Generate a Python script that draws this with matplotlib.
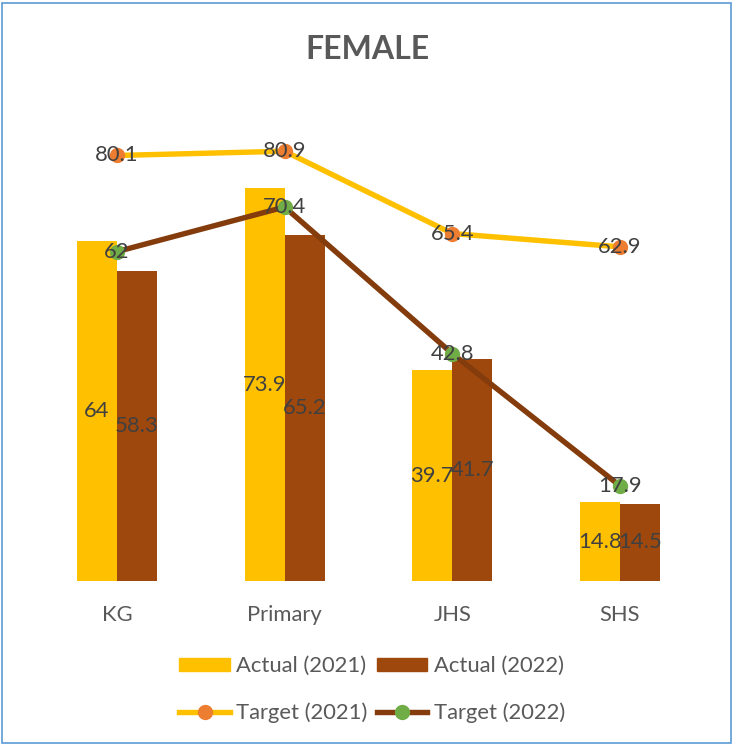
import matplotlib
matplotlib.use("Agg")
import matplotlib.pyplot as plt
from matplotlib.patches import Rectangle
from matplotlib.lines import Line2D
import numpy as np

categories = ["KG", "Primary", "JHS", "SHS"]
actual_2021 = [64, 73.9, 39.7, 14.8]
actual_2022 = [58.3, 65.2, 41.7, 14.5]
target_2021 = [80.1, 80.9, 65.4, 62.9]
target_2022 = [62, 70.4, 42.8, 17.9]

plt.rcParams['font.family'] = ['Lato', 'DejaVu Sans']

YEL = "#FFC000"
BRN = "#9E480E"
DBRN = "#843C0C"
ORG = "#ED7D31"
GRN = "#70AD47"
TXT = "#404040"
GRY = "#595959"

fig = plt.figure(figsize=(7.34, 7.44), dpi=100)
ax = fig.add_axes([0.045, 0.2191, 0.914, 0.714])

x = np.arange(len(categories))
w = 0.2386
ax.bar(x - w / 2, actual_2021, w, color=YEL, zorder=2)
ax.bar(x + w / 2, actual_2022, w, color=BRN, zorder=2)
ax.plot(x, target_2021, color=YEL, lw=3.9, marker='o', ms=10,
        mfc=ORG, mec=ORG, zorder=3, solid_capstyle='round')
ax.plot(x, target_2022, color=DBRN, lw=3.9, marker='o', ms=10,
        mfc=GRN, mec=GRN, zorder=3, solid_capstyle='round')

fs = 15.8
for xi, v in zip(x - w / 2, actual_2021):
    ax.text(xi, v / 2, f"{v:g}", ha='center', va='center', fontsize=fs, color=TXT, zorder=5)
for xi, v in zip(x + w / 2, actual_2022):
    ax.text(xi, v / 2, f"{v:g}", ha='center', va='center', fontsize=fs, color=TXT, zorder=5)
for xi, v in zip(x, target_2021):
    ax.text(xi, v, f"{v:g}", ha='center', va='center', fontsize=fs, color=TXT, zorder=5)
for xi, v in zip(x, target_2022):
    ax.text(xi, v, f"{v:g}", ha='center', va='center', fontsize=fs, color=TXT, zorder=5)

ax.set_xlim(-0.5, len(categories) - 0.5)
ax.set_ylim(0, 100)
ax.set_yticks([])
ax.set_xticks(x)
ax.set_xticklabels(categories, fontsize=fs, color=GRY)
ax.tick_params(axis='x', length=0, pad=17)
for s in ax.spines.values():
    s.set_visible(False)

fig.text(0.5, 0.934, "FEMALE", ha='center', va='center', fontsize=23,
         fontweight='bold', color=GRY)

h_a21 = Rectangle((0, 0), 1, 1, color=YEL)
h_a22 = Rectangle((0, 0), 1, 1, color=BRN)
h_t21 = Line2D([], [], color=YEL, lw=3.9, marker='o', ms=10, mfc=ORG, mec=ORG)
h_t22 = Line2D([], [], color=DBRN, lw=3.9, marker='o', ms=10, mfc=GRN, mec=GRN)
leg = fig.legend([h_a21, h_t21, h_a22, h_t22],
                 ["Actual (2021)", "Target (2021)", "Actual (2022)", "Target (2022)"],
                 ncol=2, loc='center', bbox_to_anchor=(0.507, 0.073),
                 frameon=False, fontsize=fs, handlelength=2.3, handleheight=0.6,
                 handletextpad=0.3, columnspacing=0.4, labelspacing=1.2)
for t in leg.get_texts():
    t.set_color(GRY)

fig.patches.append(Rectangle((0.003, 0.002), 0.993, 0.994, transform=fig.transFigure,
                             fill=False, edgecolor="#5B9BD5", lw=1.2))

fig.savefig("out.png", dpi=100)
